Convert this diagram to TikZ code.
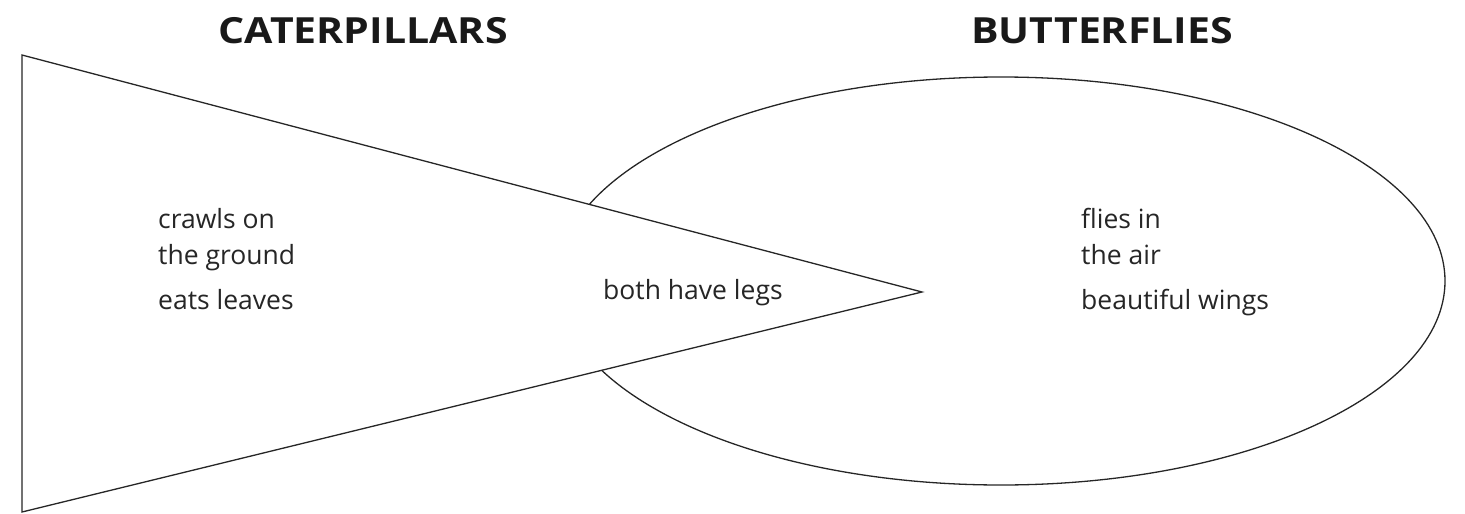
\documentclass[tikz,border=0pt]{standalone}
\usepackage{fontspec}
\setmainfont{Open Sans}
\newfontfamily\headfont[FakeStretch=1.14]{Open Sans}
\begin{document}
\begin{tikzpicture}[x=1pt,y=-1pt,
  outline/.style={draw=black!85,line width=1.3pt},
  heading/.style={anchor=base,inner sep=0pt,font=\headfont\fontsize{36}{36}\selectfont\bfseries,text=black!90},
  body/.style={anchor=base west,inner sep=0pt,font=\fontsize{26.5}{26.5}\selectfont,text=black!85}]
\useasboundingbox (0,0) rectangle (1465,514);
% ellipse (butterflies)
\draw[outline] (1001,281) ellipse [x radius=444, y radius=204];
% triangle (caterpillars)
\coordinate (ta) at (22,55);
\coordinate (tb) at (22,512);
\coordinate (tc) at (922,292);
\filldraw[outline,fill=white,line join=miter] (ta) -- (tc) -- (tb) -- cycle;
% headings
\node[heading] (hc) at (363,43) {CATERPILLARS};
\node[heading] (hb) at (1102,43) {BUTTERFLIES};
% texts
\node[body] (c1) at (158,228) {crawls on};
\node[body] (c2) at (158,264) {the ground};
\node[body] (c3) at (158,309) {eats leaves};
\node[body] (m1) at (603,299) {both have legs};
\node[body] (b1) at (1081,228) {flies in};
\node[body] (b2) at (1081,264) {the air};
\node[body] (b3) at (1081,309) {beautiful wings};
\end{tikzpicture}
\end{document}
